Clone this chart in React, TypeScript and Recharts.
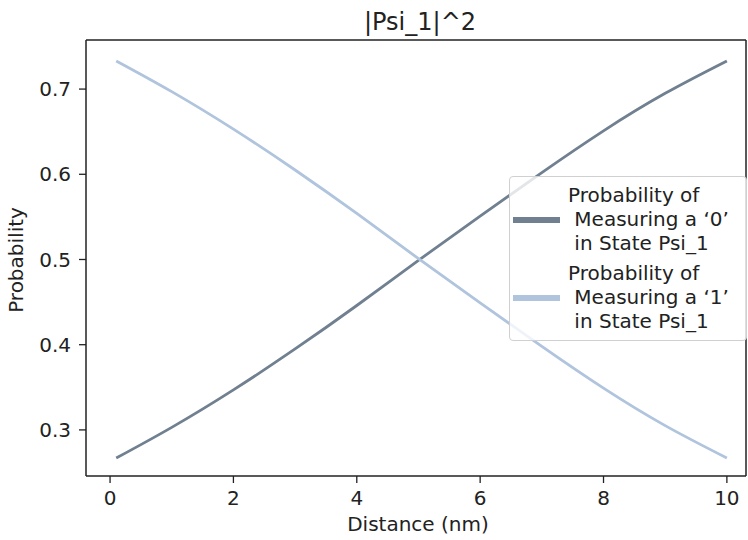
import React from 'react';
import { LineChart, Line, XAxis, YAxis, Label } from 'recharts';

const distance = [0.1, 1, 2, 3, 4, 5, 6, 7, 8, 9, 10];
const prob0 = [0.267, 0.303, 0.347, 0.395, 0.446, 0.499, 0.551, 0.602, 0.651, 0.695, 0.733];
const prob1 = [0.733, 0.697, 0.653, 0.605, 0.554, 0.501, 0.449, 0.398, 0.349, 0.305, 0.267];
const xTicks = [0, 2, 4, 6, 8, 10];
const yTicks = [0.3, 0.4, 0.5, 0.6, 0.7];
const titleText = '|Psi_1|^2';
const xLabel = 'Distance (nm)';
const yLabel = 'Probability';
const legend0 = ['Probability of', ' Measuring a \u20180\u2019', ' in State Psi_1'];
const legend1 = ['Probability of', ' Measuring a \u20181\u2019', ' in State Psi_1'];

const data = distance.map((d, i) => ({ d, p0: prob0[i], p1: prob1[i] }));

const FONT = '"DejaVu Sans", sans-serif';
const C0 = '#708090';
const C1 = '#b0c4de';
const XDOM: [number, number] = [-0.39, 10.31];
const YDOM: [number, number] = [0.2459, 0.7576];
const AX = '#222';
const TXT = '#222';
const FS = 20;

export default function App() {
  const tickStyle = { fontSize: FS, fill: TXT, fontFamily: FONT };
  const legendBlock = (lines: string[], color: string, top: number) => (
    <div style={{ position: 'absolute', left: 0, top, width: '100%', height: 72 }}>
      <div style={{ position: 'absolute', left: 3, top: 34, width: 47, height: 6, background: color }} />
      <div style={{ position: 'absolute', left: 58, top: 0, whiteSpace: 'pre', fontSize: FS, lineHeight: '24px', color: TXT, fontFamily: FONT }}>
        {lines.map((l, i) => (<div key={i}>{l}</div>))}
      </div>
    </div>
  );
  return (
    <div style={{ position: 'absolute', left: 0, top: 0, width: 748, height: 540, background: '#fff', fontFamily: FONT }}>
      <LineChart width={748} height={540} data={data} margin={{ top: 39, right: 1, bottom: 0, left: 0 }}>
        <XAxis dataKey="d" type="number" domain={XDOM} ticks={xTicks} allowDataOverflow height={64}
          tickSize={7} tickMargin={8} tick={tickStyle} axisLine={{ stroke: AX, strokeWidth: 1.5 }} tickLine={{ stroke: AX, strokeWidth: 1.3 }}>
          <Label content={() => (
            <text x={418} y={531} textAnchor="middle" fontSize={FS} fill={TXT} fontFamily={FONT}>{xLabel}</text>
          )} />
        </XAxis>
        <XAxis xAxisId="top" orientation="top" dataKey="d" type="number" domain={XDOM} allowDataOverflow height={1}
          tick={false} tickLine={false} axisLine={{ stroke: AX, strokeWidth: 1.5 }} />
        <YAxis type="number" domain={YDOM} ticks={yTicks} allowDataOverflow width={86}
          tickSize={7} tickMargin={8} tick={tickStyle} tickFormatter={(v: number) => v.toFixed(1)}
          axisLine={{ stroke: AX, strokeWidth: 1.5 }} tickLine={{ stroke: AX, strokeWidth: 1.3 }}>
          <Label content={() => (
            <text x={23} y={260} transform="rotate(-90 23 260)" textAnchor="middle" fontSize={FS} fill={TXT} fontFamily={FONT}>{yLabel}</text>
          )} />
        </YAxis>
        <YAxis yAxisId="right" orientation="right" type="number" domain={YDOM} allowDataOverflow width={1}
          tick={false} tickLine={false} axisLine={{ stroke: AX, strokeWidth: 1.5 }} />
        <Line type="natural" dataKey="p0" stroke={C0} strokeWidth={2.8} dot={false} isAnimationActive={false} />
        <Line type="natural" dataKey="p1" stroke={C1} strokeWidth={2.8} dot={false} isAnimationActive={false} />
      </LineChart>
      <div style={{ position: 'absolute', left: 320, top: 9.7, width: 200, textAlign: 'center', fontSize: 24, lineHeight: '24px', color: TXT, fontFamily: FONT, whiteSpace: 'pre' }}>
        {titleText}
      </div>
      <div style={{ position: 'absolute', left: 509, top: 176, width: 236, height: 163, border: '1px solid #d0d0d0', borderRadius: 4, background: 'rgba(255,255,255,0.8)' }}>
        {legendBlock(legend0, C0, 6)}
        {legendBlock(legend1, C1, 84)}
      </div>
    </div>
  );
}
